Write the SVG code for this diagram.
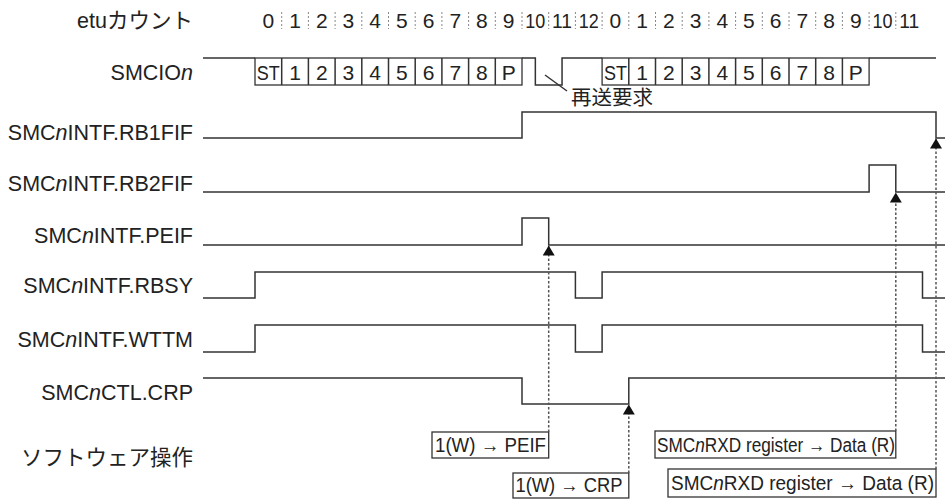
<svg xmlns="http://www.w3.org/2000/svg" width="945" height="501" viewBox="0 0 945 501">
<style>
text{font-family:"Liberation Sans","Noto Sans CJK JP",sans-serif;fill:#222}
.lbl{font-size:21.5px;text-anchor:end}
.etu{font-size:21px;text-anchor:middle}
.bit{font-size:21px;text-anchor:middle}
.box{font-size:19.5px}
.sig{fill:none;stroke:#333;stroke-width:1.5}
.frm{fill:#fff;stroke:#333;stroke-width:1.3}
.sep{fill:none;stroke:#888;stroke-width:1;stroke-dasharray:2 2}
.dot{fill:none;stroke:#555;stroke-width:1.5;stroke-dasharray:2.5 2}
.opb{fill:#fff;stroke:#333;stroke-width:1.3}
</style>
<defs>
<marker id="ah" viewBox="0 0 10 12" refX="10" refY="6" markerWidth="10" markerHeight="12" markerUnits="userSpaceOnUse" orient="auto">
<path d="M0,0 L10,6 L0,12 z" fill="#111"/>
</marker>
</defs>
<rect width="945" height="501" fill="#fff"/>

<g id="etu">
<text class="lbl" x="193" y="28">etuカウント</text>
<path class="sep" d="M281.7,12V29M308.4,12V29M335.1,12V29M361.8,12V29M388.5,12V29M415.2,12V29M441.9,12V29M468.6,12V29M495.3,12V29M522,12V29M548.7,12V29M575.4,12V29M602.1,12V29M628.8,12V29M655.5,12V29M682.2,12V29M708.9,12V29M735.6,12V29M762.3,12V29M789,12V29M815.7,12V29M842.4,12V29M869.1,12V29M895.8,12V29"/>
<text class="etu" x="268.35" y="28">0</text>
<text class="etu" x="295.05" y="28">1</text>
<text class="etu" x="321.75" y="28">2</text>
<text class="etu" x="348.45" y="28">3</text>
<text class="etu" x="375.15" y="28">4</text>
<text class="etu" x="401.85" y="28">5</text>
<text class="etu" x="428.55" y="28">6</text>
<text class="etu" x="455.25" y="28">7</text>
<text class="etu" x="481.95" y="28">8</text>
<text class="etu" x="508.65" y="28">9</text>
<text class="etu" x="535.35" y="28" textLength="20" lengthAdjust="spacingAndGlyphs">10</text>
<text class="etu" x="562.05" y="28" textLength="20" lengthAdjust="spacingAndGlyphs">11</text>
<text class="etu" x="588.75" y="28" textLength="20" lengthAdjust="spacingAndGlyphs">12</text>
<text class="etu" x="615.45" y="28">0</text>
<text class="etu" x="642.15" y="28">1</text>
<text class="etu" x="668.85" y="28">2</text>
<text class="etu" x="695.55" y="28">3</text>
<text class="etu" x="722.25" y="28">4</text>
<text class="etu" x="748.95" y="28">5</text>
<text class="etu" x="775.65" y="28">6</text>
<text class="etu" x="802.35" y="28">7</text>
<text class="etu" x="829.05" y="28">8</text>
<text class="etu" x="855.75" y="28">9</text>
<text class="etu" x="882.45" y="28" textLength="20" lengthAdjust="spacingAndGlyphs">10</text>
<text class="etu" x="909.15" y="28" textLength="20" lengthAdjust="spacingAndGlyphs">11</text>
</g>

<g id="smcio">
<text class="lbl" x="193" y="80">SMCIO<tspan font-style="italic">n</tspan></text>
<path class="sig" d="M203,58H255"/>
<rect class="frm" x="255" y="58" width="267" height="27"/>
<path class="sig" d="M281.7,58V85M308.4,58V85M335.1,58V85M361.8,58V85M388.5,58V85M415.2,58V85M441.9,58V85M468.6,58V85M495.3,58V85"/>
<path class="sig" d="M522,58H535.35V85H562.05V58H602.1"/>
<rect class="frm" x="602.1" y="58" width="267" height="27"/>
<path class="sig" d="M628.8,58V85M655.5,58V85M682.2,58V85M708.9,58V85M735.6,58V85M762.3,58V85M789,58V85M815.7,58V85M842.4,58V85"/>
<path class="sig" d="M869.1,58H936"/>
<text class="bit" x="268.35" y="80" textLength="23" lengthAdjust="spacingAndGlyphs">ST</text>
<text class="bit" x="295.05" y="80">1</text>
<text class="bit" x="321.75" y="80">2</text>
<text class="bit" x="348.45" y="80">3</text>
<text class="bit" x="375.15" y="80">4</text>
<text class="bit" x="401.85" y="80">5</text>
<text class="bit" x="428.55" y="80">6</text>
<text class="bit" x="455.25" y="80">7</text>
<text class="bit" x="481.95" y="80">8</text>
<text class="bit" x="508.65" y="80">P</text>
<text class="bit" x="615.45" y="80" textLength="23" lengthAdjust="spacingAndGlyphs">ST</text>
<text class="bit" x="642.15" y="80">1</text>
<text class="bit" x="668.85" y="80">2</text>
<text class="bit" x="695.55" y="80">3</text>
<text class="bit" x="722.25" y="80">4</text>
<text class="bit" x="748.95" y="80">5</text>
<text class="bit" x="775.65" y="80">6</text>
<text class="bit" x="802.35" y="80">7</text>
<text class="bit" x="829.05" y="80">8</text>
<text class="bit" x="855.75" y="80">P</text>
<path class="sig" d="M545,75L567,91" stroke-width="1.2"/>
<text x="571" y="105" font-size="20.5">再送要求</text>
</g>

<g id="rb1fif">
<text class="lbl" x="193" y="140">SMC<tspan font-style="italic">n</tspan>INTF.RB1FIF</text>
<path class="sig" d="M203,138H522V112H936V138H945"/>
</g>

<g id="rb2fif">
<text class="lbl" x="193" y="191">SMC<tspan font-style="italic">n</tspan>INTF.RB2FIF</text>
<path class="sig" d="M203,192H869.1V165H895.8V192H945"/>
</g>

<g id="peif">
<text class="lbl" x="193" y="243">SMC<tspan font-style="italic">n</tspan>INTF.PEIF</text>
<path class="sig" d="M203,245H522V218H548.7V245H945"/>
</g>

<g id="rbsy">
<text class="lbl" x="193" y="293">SMC<tspan font-style="italic">n</tspan>INTF.RBSY</text>
<path class="sig" d="M203,298H255V272H575.4V298H602.1V272H922.5V298H945"/>
</g>

<g id="wttm">
<text class="lbl" x="193" y="347">SMC<tspan font-style="italic">n</tspan>INTF.WTTM</text>
<path class="sig" d="M203,352H255V325H575.4V352H602.1V325H922.5V352H945"/>
</g>

<g id="crp">
<text class="lbl" x="193" y="400">SMC<tspan font-style="italic">n</tspan>CTL.CRP</text>
<path class="sig" d="M203,378H522V404H628.8V378H945"/>
</g>

<g id="software">
<text class="lbl" x="193" y="465">ソフトウェア操作</text>
</g>

<g id="op-peif">
<rect class="opb" x="432" y="432" width="116.7" height="26"/>
<text class="box" x="435" y="452" textLength="111" lengthAdjust="spacingAndGlyphs">1(W) → PEIF</text>
</g>
<g id="op-crp">
<rect class="opb" x="513" y="473" width="115.8" height="25"/>
<text class="box" x="515.5" y="492" textLength="107" lengthAdjust="spacingAndGlyphs">1(W) → CRP</text>
</g>
<g id="op-rxd1">
<rect class="opb" x="655" y="431" width="240.8" height="27"/>
<text class="box" transform="translate(657,452) scale(0.883,1)" x="0" y="0">SMC<tspan font-style="italic">n</tspan>RXD register → Data (R)</text>
</g>
<g id="op-rxd2">
<rect class="opb" x="668" y="469" width="268" height="28"/>
<text class="box" transform="translate(671,490) scale(0.975,1)" x="0" y="0">SMC<tspan font-style="italic">n</tspan>RXD register → Data (R)</text>
</g>

<g id="connectors">
<path class="dot" d="M548.7,432V245.5" marker-end="url(#ah)"/>
<path class="dot" d="M628.8,473V404.5" marker-end="url(#ah)"/>
<path class="dot" d="M895.8,431V192.5" marker-end="url(#ah)"/>
<path class="dot" d="M936,469V138.5" marker-end="url(#ah)"/>
</g>
</svg>
